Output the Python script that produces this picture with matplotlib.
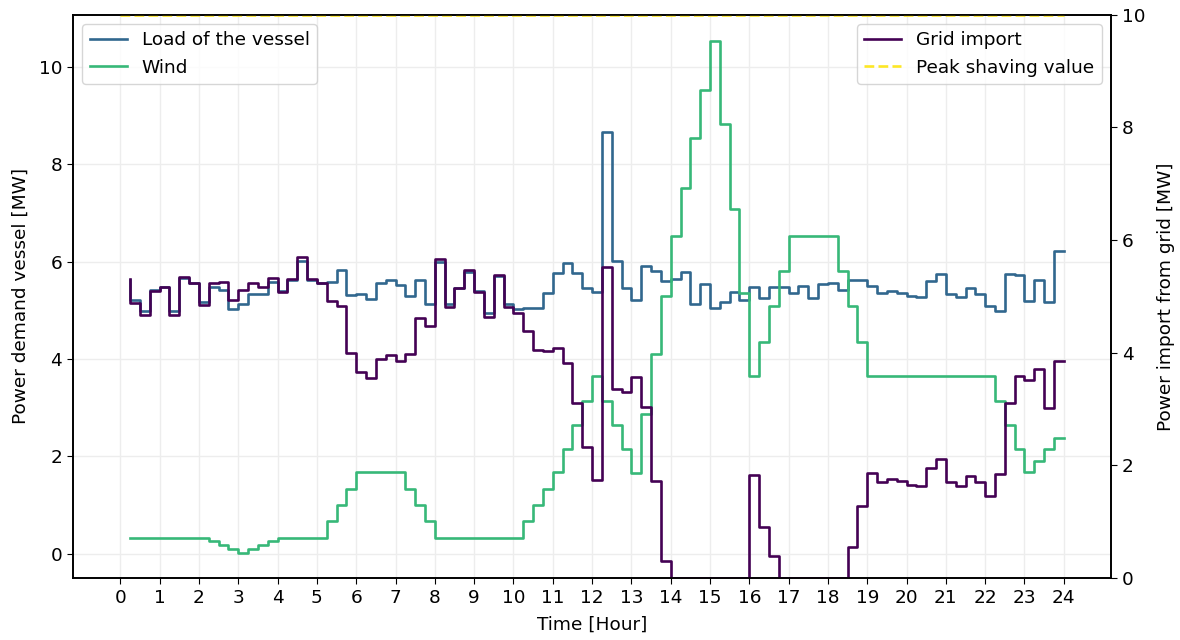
import numpy as np
import matplotlib.pyplot as plt

# 15-minute intervals over one day, steps end at each quarter hour
hours = np.arange(1, 97) * 0.25

# Load of the vessel [MW]
load = [5.63, 5.21, 4.98, 5.41, 5.48, 4.98, 5.67, 5.56, 5.17, 5.48, 5.42, 5.02,
        5.13, 5.33, 5.34, 5.57, 5.40, 5.63, 6.01, 5.62, 5.55, 5.57, 5.82, 5.32,
        5.33, 5.22, 5.55, 5.62, 5.52, 5.30, 5.62, 5.13, 5.99, 5.13, 5.46, 5.78,
        5.39, 4.95, 5.70, 5.13, 5.03, 5.04, 5.04, 5.36, 5.76, 5.96, 5.76, 5.46,
        5.37, 8.66, 6.01, 5.46, 5.21, 5.91, 5.81, 5.60, 5.65, 5.79, 5.13, 5.54,
        5.04, 5.17, 5.37, 5.20, 5.47, 5.26, 5.47, 5.47, 5.36, 5.49, 5.25, 5.53,
        5.56, 5.42, 5.63, 5.63, 5.50, 5.35, 5.40, 5.36, 5.29, 5.27, 5.59, 5.75,
        5.34, 5.27, 5.45, 5.34, 5.09, 4.99, 5.75, 5.73, 5.18, 5.62, 5.16, 6.22]

# Wind power [MW]
wind = [0.32, 0.32, 0.32, 0.32, 0.32, 0.32, 0.32, 0.32, 0.32, 0.25, 0.17, 0.09,
        0.01, 0.09, 0.17, 0.25, 0.32, 0.32, 0.32, 0.32, 0.32, 0.66, 1.00, 1.33,
        1.67, 1.67, 1.67, 1.67, 1.67, 1.33, 1.00, 0.66, 0.32, 0.32, 0.32, 0.32,
        0.32, 0.32, 0.32, 0.32, 0.32, 0.66, 1.00, 1.33, 1.67, 2.15, 2.65, 3.14,
        3.64, 3.14, 2.65, 2.15, 1.65, 2.87, 4.09, 5.30, 6.52, 7.52, 8.53, 9.53,
        10.54, 8.82, 7.08, 5.36, 3.64, 4.35, 5.08, 5.80, 6.52, 6.52, 6.52, 6.52,
        6.52, 5.80, 5.08, 4.35, 3.64, 3.64, 3.64, 3.64, 3.64, 3.64, 3.64, 3.64,
        3.64, 3.64, 3.64, 3.64, 3.64, 3.14, 2.65, 2.15, 1.67, 1.91, 2.15, 2.37]

# Power imported from the grid [MW]
grid_import = [5.31, 4.89, 4.66, 5.09, 5.16, 4.66, 5.35, 5.24, 4.85, 5.23, 5.25, 4.93,
               5.12, 5.24, 5.17, 5.32, 5.08, 5.31, 5.69, 5.30, 5.23, 4.91, 4.82, 3.99,
               3.66, 3.55, 3.88, 3.95, 3.85, 3.97, 4.62, 4.47, 5.67, 4.81, 5.14, 5.46,
               5.07, 4.63, 5.38, 4.81, 4.71, 4.38, 4.04, 4.03, 4.09, 3.81, 3.11, 2.32,
               1.73, 5.52, 3.36, 3.31, 3.56, 3.04, 1.72, 0.30, 0.00, 0.00, 0.00, 0.00,
               0.00, 0.00, 0.00, 0.00, 1.83, 0.91, 0.39, 0.00, 0.00, 0.00, 0.00, 0.00,
               0.00, 0.00, 0.55, 1.28, 1.86, 1.71, 1.76, 1.72, 1.65, 1.63, 1.95, 2.11,
               1.70, 1.63, 1.81, 1.70, 1.45, 1.85, 3.10, 3.58, 3.51, 3.71, 3.01, 3.85]

peak_shaving = 10.0
day = [0, 24]

cmap = plt.get_cmap('viridis')
fs = 13.3

fig, ax1 = plt.subplots(figsize=(11.8, 6.4), dpi=100)
fig.subplots_adjust(left=0.062, right=0.9415, bottom=0.097, top=0.977)

ax1.step(hours, load, where='pre', color=cmap(0.33), lw=1.9, label='Load of the vessel')
ax1.step(hours, wind, where='pre', color=cmap(0.67), lw=1.9, label='Wind')
ax1.set_xlabel('Time [Hour]', fontsize=fs, labelpad=6)
ax1.set_ylabel('Power demand vessel [MW]', fontsize=fs, labelpad=6)
ax1.set_xticks(range(0, 25))
ax1.set_xlim(-1.2, 25.2)
ax1.set_ylim(-0.5, 11.07)
ax1.tick_params(labelsize=fs, length=4.5)
ax1.grid(True, color='#ededed', lw=1)
ax1.set_axisbelow(True)
ax1.legend(loc='upper left', fontsize=fs)

# Grid import on its own axis
ax2 = ax1.twinx()
ax2.step(hours, grid_import, where='pre', color=cmap(0.0), lw=1.9, label='Grid import')
ax2.plot(day, [peak_shaving, peak_shaving], '--', color=cmap(1.0), lw=1.9,
         label='Peak shaving value')
ax2.set_ylabel('Power import from grid [MW]', fontsize=fs, labelpad=8)
ax2.set_ylim(0, 10)
ax2.tick_params(labelsize=fs, length=4.5)
ax2.legend(loc='upper right', fontsize=fs)

for ax in (ax1, ax2):
    for sp in ax.spines.values():
        sp.set_linewidth(1.2)

fig.savefig('out.png', dpi=100)
